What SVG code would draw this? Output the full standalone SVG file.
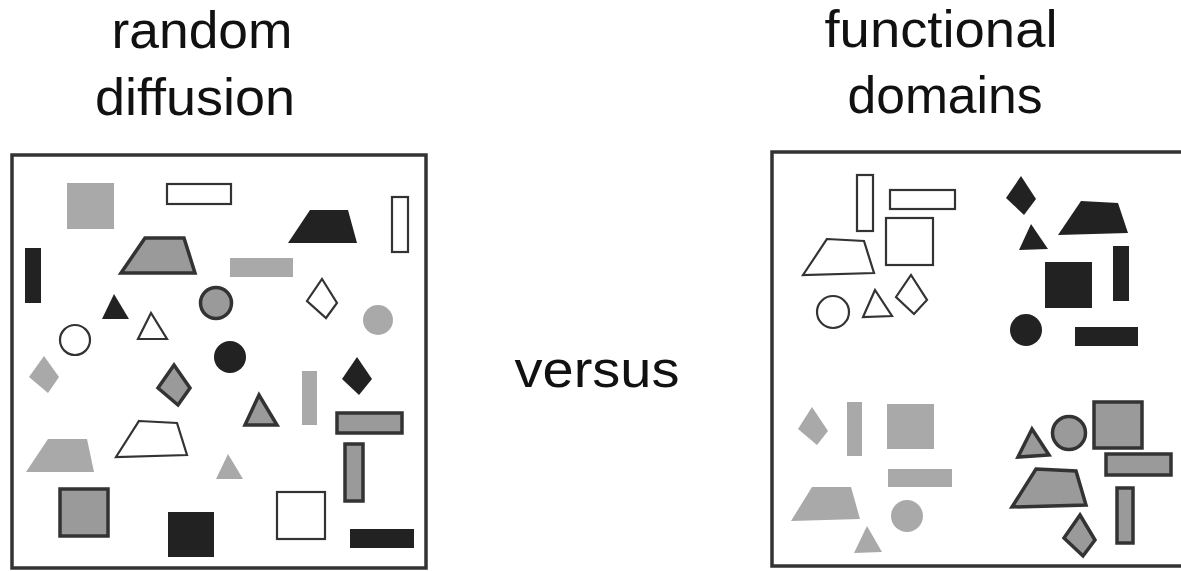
<svg xmlns="http://www.w3.org/2000/svg" width="1181" height="571" viewBox="0 0 1181 571">
<style>
text{font-family:"Liberation Sans",Arial,sans-serif;font-size:52px;fill:#111;text-anchor:middle}
.box{fill:none;stroke:#333;stroke-width:3.5}
.blk{fill:#222}
.lt{fill:#a9a9a9}
.ol{fill:#fff;stroke:#333;stroke-width:2.2}
.gt{fill:#9a9a9a;stroke:#333;stroke-width:3.5}
</style>
<rect width="1181" height="571" fill="#fff"/>
<g id="labels">
<text x="202" y="48" textLength="181" lengthAdjust="spacingAndGlyphs">random</text>
<text x="195" y="115" textLength="200" lengthAdjust="spacingAndGlyphs">diffusion</text>
<text x="941" y="47" textLength="233" lengthAdjust="spacingAndGlyphs">functional</text>
<text x="945" y="113" textLength="195" lengthAdjust="spacingAndGlyphs">domains</text>
<text x="597" y="387" textLength="165" lengthAdjust="spacingAndGlyphs">versus</text>
</g>
<g id="random-panel">
<rect class="box" x="12" y="155" width="414" height="413"/>
<rect class="lt" x="67" y="183" width="47" height="46"/>
<rect class="ol" x="167" y="184" width="64" height="20"/>
<rect class="blk" x="25" y="248" width="16" height="55"/>
<polygon class="gt" points="145,238 184,238 195,273 121,273"/>
<polygon class="blk" points="114,294 102,319 129,319"/>
<polygon class="ol" points="151,313 138,339 167,339"/>
<circle class="ol" cx="75" cy="340" r="15"/>
<circle class="gt" cx="216" cy="303" r="15.5"/>
<polygon class="blk" points="310,210 348,210 357,243 288,243"/>
<rect class="ol" x="392" y="197" width="16" height="55"/>
<rect class="lt" x="230" y="258" width="63" height="19"/>
<polygon class="ol" points="322,279 337,303 326,318 307,301"/>
<circle class="lt" cx="378" cy="320" r="15"/>
<circle class="blk" cx="230" cy="357" r="16"/>
<polygon class="lt" points="44,356 59,377 48,393 29,377"/>
<polygon class="gt" points="174,365 190,388 178,405 158,388"/>
<polygon class="ol" points="139,421 177,423 187,455 116,457"/>
<polygon class="lt" points="48,439 87,439 94,472 26,472"/>
<rect class="gt" x="60" y="489" width="48" height="47"/>
<rect class="blk" x="168" y="512" width="46" height="45"/>
<polygon class="gt" points="259,395 245,425 277,425"/>
<rect class="lt" x="302" y="371" width="15" height="54"/>
<polygon class="blk" points="357,357 372,379 359,395 342,379"/>
<rect class="gt" x="337" y="413" width="65" height="20"/>
<rect class="gt" x="345" y="444" width="18" height="57"/>
<polygon class="lt" points="228,454 216,479 243,479"/>
<rect class="ol" x="277" y="492" width="48" height="47"/>
<rect class="blk" x="350" y="529" width="64" height="19"/>
</g>
<g id="domains-panel">
<rect class="box" x="772" y="152" width="420" height="414"/>
<rect class="ol" x="857" y="175" width="16" height="56"/>
<rect class="ol" x="890" y="190" width="65" height="19"/>
<rect class="ol" x="886" y="218" width="47" height="47"/>
<polygon class="ol" points="827,239 864,241 874,273 803,275"/>
<circle class="ol" cx="833" cy="312" r="16"/>
<polygon class="ol" points="875,290 863,317 892,316"/>
<polygon class="ol" points="911,275 927,300 914,314 896,297"/>
<polygon class="blk" points="1021,176 1036,199 1024,215 1006,198"/>
<polygon class="blk" points="1081,201 1118,203 1128,233 1058,235"/>
<polygon class="blk" points="1031,224 1019,250 1048,249"/>
<rect class="blk" x="1045" y="262" width="47" height="46"/>
<rect class="blk" x="1113" y="246" width="16" height="55"/>
<circle class="blk" cx="1026" cy="330" r="16"/>
<rect class="blk" x="1075" y="327" width="63" height="19"/>
<polygon class="lt" points="812,407 828,431 817,445 798,429"/>
<rect class="lt" x="847" y="402" width="15" height="54"/>
<rect class="lt" x="887" y="404" width="47" height="45"/>
<rect class="lt" x="888" y="469" width="64" height="18"/>
<polygon class="lt" points="812,487 851,487 860,519 791,521"/>
<circle class="lt" cx="907" cy="516" r="16"/>
<polygon class="lt" points="867,526 854,553 882,552"/>
<polygon class="gt" points="1032,429 1018,457 1049,455"/>
<circle class="gt" cx="1069" cy="433" r="16.5"/>
<rect class="gt" x="1094" y="402" width="48" height="46"/>
<rect class="gt" x="1106" y="454" width="65" height="21"/>
<polygon class="gt" points="1036,469 1076,471 1086,505 1012,507"/>
<rect class="gt" x="1117" y="488" width="16" height="55"/>
<polygon class="gt" points="1080,515 1095,540 1083,556 1064,538"/>
</g>
</svg>
